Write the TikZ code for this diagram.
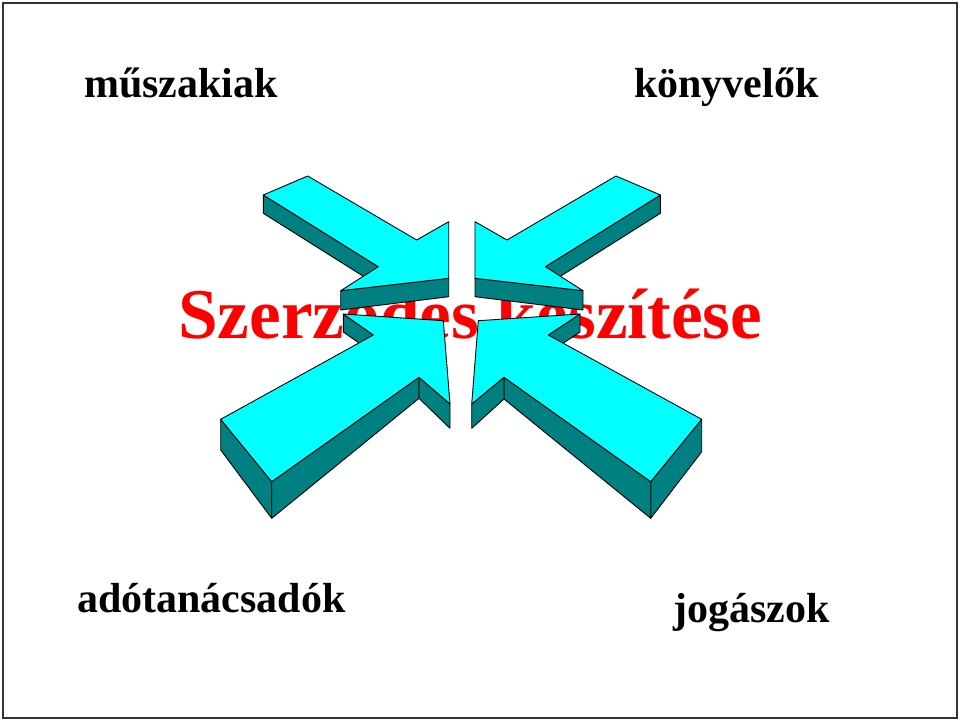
\documentclass[tikz,border=0pt]{standalone}
\usepackage{fontspec}
\setmainfont{Liberation Serif}
\usepackage{tikz}
\definecolor{arrowtop}{RGB}{0,255,255}
\definecolor{arrowside}{RGB}{0,128,128}
\tikzset{
  topface/.style={fill=arrowtop,draw=black,line width=0.9pt,line join=round},
  sideface/.style={fill=arrowside,draw=black,line width=0.9pt,line join=round},
  group/.style={font=\bfseries\fontsize{42}{50}\selectfont,anchor=base west,inner sep=0pt}
}
\begin{document}
\begin{tikzpicture}[x=1pt,y=-1pt]
	\useasboundingbox (0,0) rectangle (960,721);
	%% frame
	\draw[line width=2pt,black!80] (3,3) rectangle (957,718);
	%% labels
	\node[group] (muszaki) at (84,97) {műszakiak};
	\node[group] (konyvelo) at (634,97) {könyvelők};
	\node[group] (adotan) at (77,612) {adótanácsadók};
	\node[group] (jogasz) at (673,622) {jogászok};
	\node[group,text=red,font=\bfseries\fontsize{71.3}{80}\selectfont] (szerzodes) at (178,338) {Szerződés készítése};
	%% arrow from top left
	\draw[sideface] (263.3,195) -- (378.3,266.7) -- (378.3,285.7) -- (263.3,213.3) -- cycle;
	\draw[sideface] (340.7,290.7) -- (448.7,278.3) -- (448.7,296.7) -- (340.7,310) -- cycle;
	\draw[topface] (263.3,195) -- (307.7,176) -- (416.7,240) -- (448.7,221.7) -- (448.7,278.3) -- (340.7,290.7) -- (378.3,266.7) -- cycle;
	%% arrow from top right
	\draw[sideface] (660.4,195) -- (545.4,266.7) -- (545.4,285.7) -- (660.4,213.3) -- cycle;
	\draw[sideface] (583,290.7) -- (475,278.3) -- (475,296.7) -- (583,310) -- cycle;
	\draw[topface] (660.4,195) -- (616,176) -- (507,240) -- (475,221.7) -- (475,278.3) -- (583,290.7) -- (545.4,266.7) -- cycle;
	%% arrow from bottom left
	\draw[sideface] (343.3,314) -- (373.3,335) -- (373.3,353) -- (343.3,332) -- cycle;
	\draw[sideface] (220.7,419.3) -- (271.7,481.7) -- (271.7,518.3) -- (220.7,450) -- cycle;
	\draw[sideface] (271.7,481.7) -- (419,377.3) -- (419,398.3) -- (271.7,518.3) -- cycle;
	\draw[sideface] (419,377.3) -- (450,404) -- (450,428.3) -- (419,398.3) -- cycle;
	\draw[topface] (220.7,419.3) -- (373.3,335) -- (343.3,314) -- (443.3,320.7) -- (450,404) -- (419,377.3) -- (271.7,481.7) -- cycle;
	%% arrow from bottom right
	\draw[sideface] (580,314) -- (548.3,335) -- (548.3,353) -- (580,332) -- cycle;
	\draw[sideface] (701.7,419.3) -- (650.7,481.7) -- (650.7,518.3) -- (701.7,451.7) -- cycle;
	\draw[sideface] (650.7,481.7) -- (504,377.3) -- (504,399) -- (650.7,518.3) -- cycle;
	\draw[sideface] (504,377.3) -- (471.7,404) -- (471.7,428.3) -- (504,399) -- cycle;
	\draw[topface] (701.7,419.3) -- (548.3,335) -- (580,314) -- (478.3,320.7) -- (471.7,404) -- (504,377.3) -- (650.7,481.7) -- cycle;
\end{tikzpicture}
\end{document}
